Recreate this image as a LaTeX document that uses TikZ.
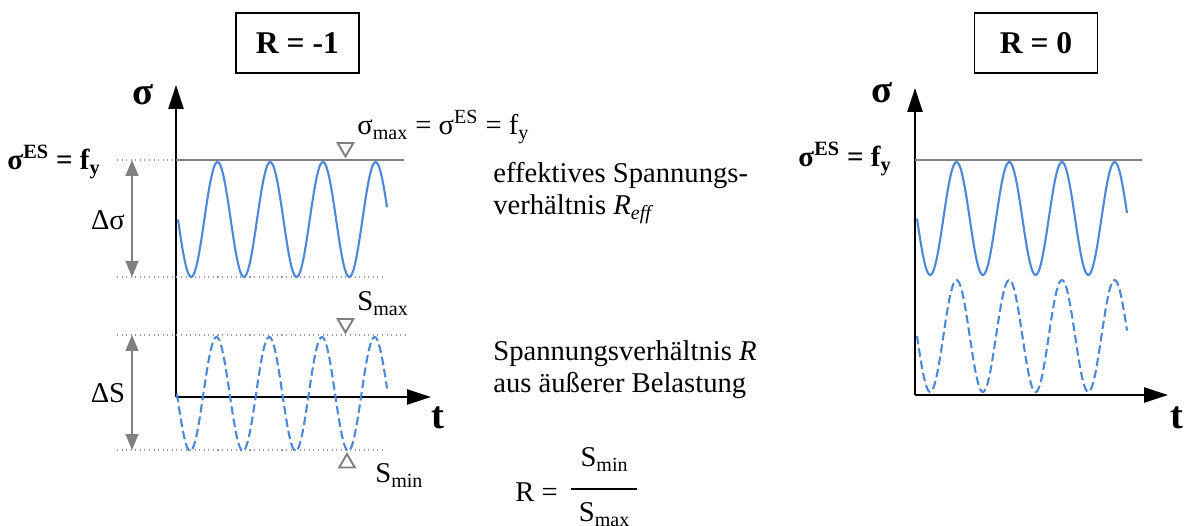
\documentclass[tikz,border=0pt]{standalone}
\usepackage{fontspec}
\setmainfont{Liberation Serif}
\usetikzlibrary{arrows.meta,shapes.geometric}
\definecolor{curveblue}{RGB}{76,136,217}
\definecolor{limitgray}{RGB}{128,128,128}

\begin{document}
\begin{tikzpicture}[x=0.02cm, y=-0.02cm,
	every node/.style={font=\fontsize{16.3}{18.7}\selectfont, inner sep=0pt},
	boldlabel/.style={font=\fontsize{22}{24}\bfseries\selectfont},
	levellabel/.style={font=\fontsize{16.5}{19}\bfseries\selectfont, anchor=base east},
	titlebox/.style={draw, line width=0.9pt, minimum width=2.46cm, minimum height=1.2cm, font=\fontsize{18}{21}\bfseries\selectfont},
	axis/.style={line width=1.4pt, -{Triangle[length=4.8mm,width=3mm]}},
	limitline/.style={limitgray, line width=1.1pt},
	guide/.style={limitgray!80, line width=0.6pt, dotted},
	span/.style={limitgray, line width=0.8pt, {Triangle[length=3.2mm,width=2.6mm]}-{Triangle[length=3.2mm,width=2.6mm]}},
	marker/.style={draw=limitgray, line width=1.1pt, regular polygon, regular polygon sides=3, minimum size=0.36cm},
	sinecurve/.style={curveblue, line width=1.2pt},
	loadcurve/.style={curveblue, line width=1.2pt, dash pattern=on 4.8pt off 2.3pt}]
	\useasboundingbox (0,0) rectangle (1184,526);

	% R = -1
	\node[titlebox] (rneg) at (297.5,43) {R = -1};
	\coordinate (o1) at (176,397);
	\coordinate (sigtip1) at (176,85);
	\coordinate (ttip1) at (431,397);
	\draw[axis] (o1) -- (sigtip1);
	\draw[axis] (o1) -- (ttip1);
	\node[boldlabel] (sig1) at (143,95) {σ};
	\node[boldlabel] (t1) at (438,418) {t};

	\coordinate (fyl1) at (117,160);
	\coordinate (fy1) at (176,160);
	\coordinate (fyr1) at (404,160);
	\coordinate (sminl1) at (117,277);
	\coordinate (sminr1) at (383,277);
	\coordinate (lmaxl1) at (117,335);
	\coordinate (lmaxr1) at (405,335);
	\coordinate (lminl1) at (117,450);
	\coordinate (lminr1) at (383,450);
	\draw[guide] (fyl1) -- (fy1);
	\draw[limitline] (fy1) -- (fyr1);
	\draw[guide] (sminl1) -- (sminr1);
	\draw[guide] (lmaxl1) -- (lmaxr1);
	\draw[guide] (lminl1) -- (lminr1);

	\draw[sinecurve] plot[domain=178:387, samples=150] (\x, {219.5+57.5*sin((\x-178)*6.831)});
	\draw[loadcurve] plot[domain=177:387, samples=150] (\x, {394+57*sin((\x-177)*6.831)});

	\coordinate (dsigtop) at (132,160);
	\coordinate (dsigbot) at (132,277);
	\coordinate (dstop) at (132,335);
	\coordinate (dsbot) at (132,450);
	\draw[span] (dsigtop) -- (dsigbot);
	\draw[span] (dstop) -- (dsbot);
	\node[anchor=base] (dsig) at (108,230) {Δσ};
	\node[anchor=base] (ds) at (108,403) {ΔS};

	\node[levellabel] (fylbl1) at (101,170) {σ\textsuperscript{ES} = f\textsubscript{y}};
	\node[marker, shape border rotate=180] (sigmark) at (345.5,147.5) {};
	\node[anchor=base west] (sigmaxlbl) at (357,135) {σ\textsubscript{max} = σ\textsuperscript{ES} = f\textsubscript{y}};
	\node[marker, shape border rotate=180] (smaxmark) at (345.5,323.5) {};
	\node[anchor=base west] (smaxlbl) at (357,311) {S\textsubscript{max}};
	\node[marker] (sminmark) at (347,463) {};
	\node[anchor=base west] (sminlbl) at (375,483) {S\textsubscript{min}};

	\node[anchor=base west, align=left] (refftxt) at (493,215) {effektives Spannungs-\\verhältnis \textit{R}\textsubscript{\textit{eff}}};
	\node[anchor=base west, align=left] (rtxt) at (493,393) {Spannungsverhältnis \textit{R}\\aus äußerer Belastung};
	\node[anchor=base west] (rdef) at (515,502) {R =};
	\node[anchor=base] (fnum) at (604.5,467) {S\textsubscript{min}};
	\node[anchor=base] (fden) at (604.5,522) {S\textsubscript{max}};
	\coordinate (barl) at (571,489);
	\coordinate (barr) at (637,489);
	\draw[line width=0.6pt] (barl) -- (barr);

	% R = 0
	\node[titlebox] (rzero) at (1036,43) {R = 0};
	\coordinate (o2) at (915,395);
	\coordinate (sigtip2) at (915,88);
	\coordinate (ttip2) at (1168,395);
	\draw[axis] (o2) -- (sigtip2);
	\draw[axis] (o2) -- (ttip2);
	\node[boldlabel] (sig2) at (882,93) {σ};
	\node[boldlabel] (t2) at (1177,418) {t};
	\coordinate (fy2) at (915,160);
	\coordinate (fyr2) at (1142,160);
	\draw[limitline] (fy2) -- (fyr2);
	\node[levellabel] (fylbl2) at (892,167) {σ\textsuperscript{ES} = f\textsubscript{y}};
	\draw[sinecurve] plot[domain=917:1127, samples=150] (\x, {218.5+56.5*sin((\x-917)*6.831)});
	\draw[loadcurve] plot[domain=917:1127, samples=150] (\x, {336+56*sin((\x-917)*6.831)});
\end{tikzpicture}
\end{document}
